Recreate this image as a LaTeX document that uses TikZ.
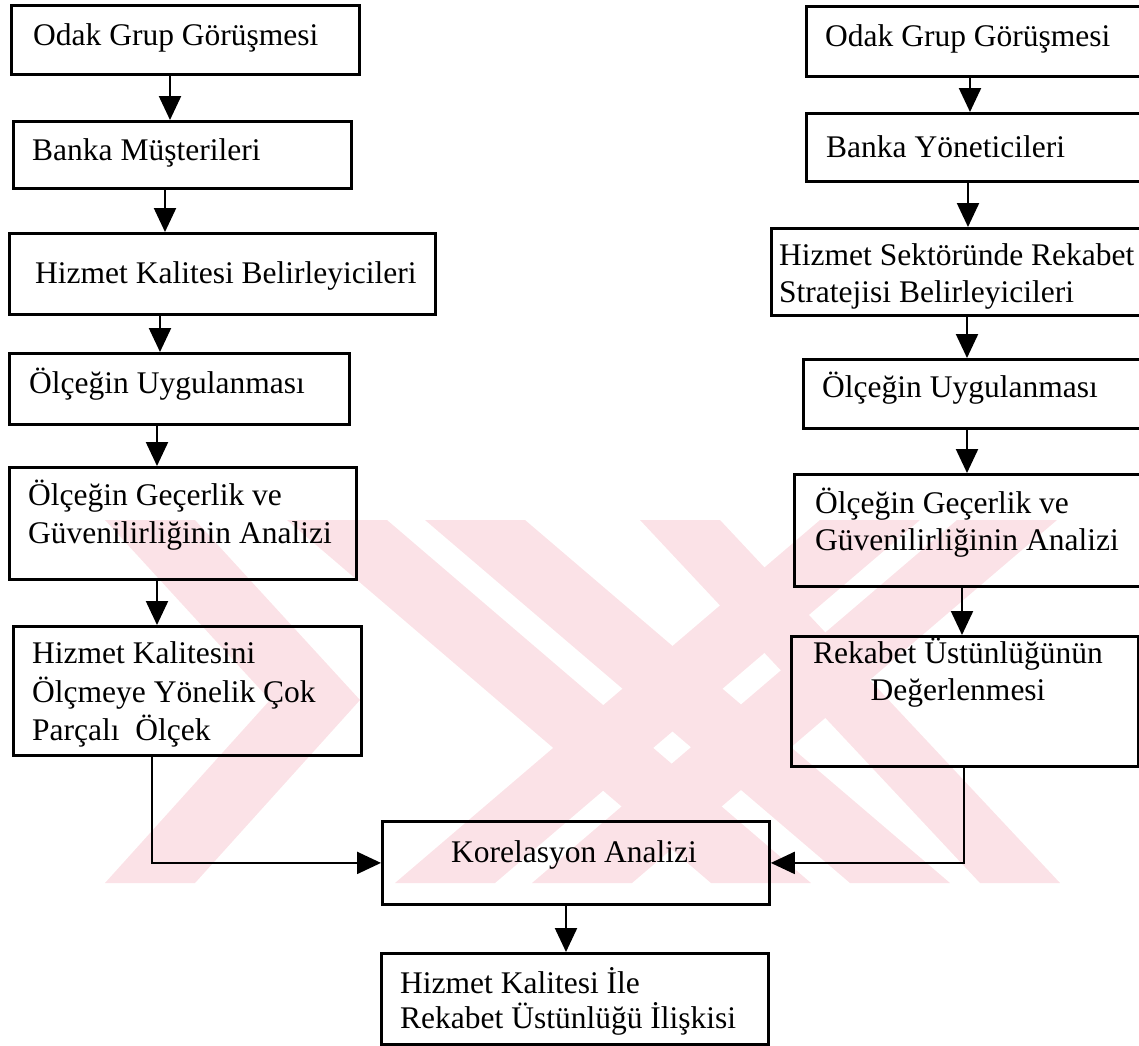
\documentclass[tikz,border=0pt]{standalone}
\usepackage{fontspec}
\setmainfont{Liberation Serif}
\usetikzlibrary{arrows.meta}
\definecolor{wm}{RGB}{251,226,231}
\tikzset{
  box/.style={draw=black, line width=2.8pt, rectangle, inner sep=0pt, anchor=north west},
  lbl/.style={anchor=base west, inner sep=0pt, font=\fontsize{31.5pt}{38pt}\selectfont},
  clbl/.style={anchor=base, inner sep=0pt, font=\fontsize{31.5pt}{38pt}\selectfont},
  arr/.style={line width=2.2pt, -{Triangle[width=22pt,length=24pt]}},
  wmark/.style={fill=wm, draw=none},
}
\begin{document}
\begin{tikzpicture}[x=1pt,y=-1pt]
\useasboundingbox (0,0) rectangle (1139,1045);
\clip (0,0) rectangle (1139,1045);
% watermark (approximate)
\begin{scope}
  \clip (105,520) rectangle (1060,883);
  \fill[wmark] (105,520) -- (195,520) -- (360,700) -- (195,883) -- (105,883) -- (270,700) -- cycle;
  \fill[wmark] (287,520) -- (387,520) -- (811,883) -- (711,883) -- cycle;
  \fill[wmark] (425,520) -- (525,520) -- (950,883) -- (850,883) -- cycle;
  \fill[wmark] (957,520) -- (1057,520) -- (632,883) -- (532,883) -- cycle;
  \fill[wmark] (820,520) -- (920,520) -- (495,883) -- (395,883) -- cycle;
  \fill[wmark] (640,520) -- (720,520) -- (1060,883) -- (980,883) -- cycle;
\end{scope}
% boxes left
\node[box, minimum width=348pt, minimum height=69pt] (L1) at (10,4) {};
\node[box, minimum width=338pt, minimum height=67pt] (L2) at (12,120) {};
\node[box, minimum width=426pt, minimum height=81pt] (L3) at (8,232) {};
\node[box, minimum width=340pt, minimum height=71pt] (L4) at (8,352) {};
\node[box, minimum width=347pt, minimum height=112pt] (L5) at (8,466) {};
\node[box, minimum width=348pt, minimum height=129pt] (L6) at (12,625) {};
% boxes right
\node[box, minimum width=345pt, minimum height=70pt] (R1) at (805,5) {};
\node[box, minimum width=345pt, minimum height=68pt] (R2) at (805,112) {};
\node[box, minimum width=385pt, minimum height=87pt] (R3) at (770,227) {};
\node[box, minimum width=350pt, minimum height=69pt] (R4) at (802,358) {};
\node[box, minimum width=360pt, minimum height=112pt] (R5) at (793,473) {};
\node[box, minimum width=347pt, minimum height=130pt] (R6) at (790,635) {};
% bottom
\node[box, minimum width=387pt, minimum height=83pt] (K) at (381,820) {};
\node[box, minimum width=387pt, minimum height=91pt] (F) at (380,952) {};
% texts
\node[lbl] (tL1) at (33,45) {Odak Grup Görüşmesi};
\node[lbl] (tL2) at (32,160) {Banka Müşterileri};
\node[lbl] (tL3) at (35,283) {Hizmet Kalitesi Belirleyicileri};
\node[lbl] (tL4) at (29,393) {Ölçeğin Uygulanması};
\node[lbl] (tL5a) at (28,505) {Ölçeğin Geçerlik ve};
\node[lbl] (tL5b) at (28,543) {Güvenilirliğinin Analizi};
\node[lbl] (tL6a) at (32,663) {Hizmet Kalitesini};
\node[lbl] (tL6b) at (32,702) {Ölçmeye Yönelik Çok};
\node[lbl] (tL6c) at (32,740) {Parçalı\ \ Ölçek};
\node[lbl] (tR1) at (825,46) {Odak Grup Görüşmesi};
\node[lbl] (tR2) at (826,157) {Banka Yöneticileri};
\node[lbl] (tR3a) at (779,265) {Hizmet Sektöründe Rekabet};
\node[lbl] (tR3b) at (779,302) {Stratejisi Belirleyicileri};
\node[lbl] (tR4) at (822,397) {Ölçeğin Uygulanması};
\node[lbl] (tR5a) at (815,513) {Ölçeğin Geçerlik ve};
\node[lbl] (tR5b) at (815,550) {Güvenilirliğinin Analizi};
\node[clbl] (tR6a) at (958,663) {Rekabet Üstünlüğünün};
\node[clbl] (tR6b) at (958,700) {Değerlenmesi};
\node[clbl] (tK) at (574,862) {Korelasyon Analizi};
\node[lbl] (tFa) at (400,993) {Hizmet Kalitesi İle};
\node[lbl] (tFb) at (400,1028) {Rekabet Üstünlüğü İlişkisi};
% arrows left
\draw[arr] (170,0 |- L1.south) -- (170,0 |- L2.north);
\draw[arr] (165,0 |- L2.south) -- (165,0 |- L3.north);
\draw[arr] (160,0 |- L3.south) -- (160,0 |- L4.north);
\draw[arr] (157,0 |- L4.south) -- (157,0 |- L5.north);
\draw[arr] (157,0 |- L5.south) -- (157,0 |- L6.north);
% arrows right
\draw[arr] (970,0 |- R1.south) -- (970,0 |- R2.north);
\draw[arr] (968,0 |- R2.south) -- (968,0 |- R3.north);
\draw[arr] (967,0 |- R3.south) -- (967,0 |- R4.north);
\draw[arr] (967,0 |- R4.south) -- (967,0 |- R5.north);
\draw[arr] (962,0 |- R5.south) -- (962,0 |- R6.north);
% merge
\draw[arr] (152,0 |- L6.south) |- (K.west);
\draw[arr] (964,0 |- R6.south) |- (K.east);
\draw[arr] (566,0 |- K.south) -- (566,0 |- F.north);
\end{tikzpicture}
\end{document}
